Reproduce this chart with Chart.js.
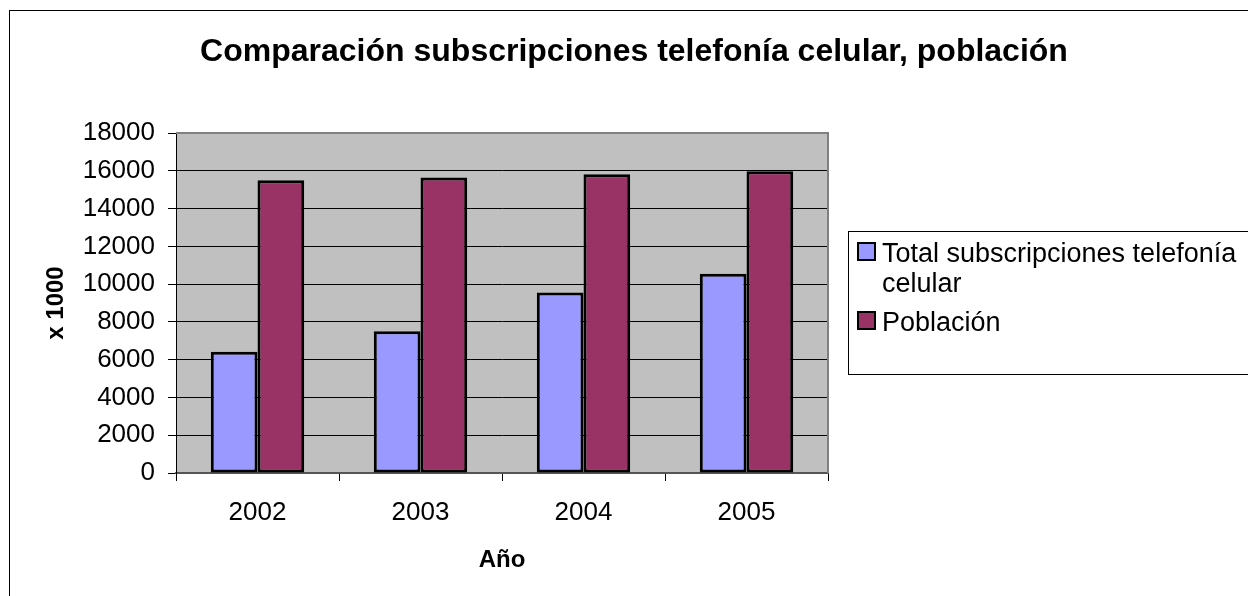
<!DOCTYPE html>
<html>
<head>
<meta charset="utf-8">
<script src="https://cdn.jsdelivr.net/npm/chart.js@4/dist/chart.umd.min.js"></script>
<style>
  html, body { margin: 0; padding: 0; background: #fff; }
  #wrap { width: 1248px; height: 596px; }
</style>
</head>
<body>
<div id="wrap"><canvas id="chart" width="1248" height="596"></canvas></div>
<script>
// datos (x 1000)
const years = ["2002", "2003", "2004", "2005"];
const subscripciones = [6420, 7500, 9550, 10550];
const poblacion = [15500, 15650, 15820, 15970];
const yTicks = [0, 2000, 4000, 6000, 8000, 10000, 12000, 14000, 16000, 18000];

const chartTitle = "Comparación subscripciones telefonía celular, población";
const seriesNames = ["Total subscripciones telefonía celular", "Población"];
const FONT = "'Liberation Sans', Arial, sans-serif";

// fondo gris del área de trazado y marco exterior
const backgroundPlugin = {
  id: "backgroundPlugin",
  beforeDraw(chart) {
    const { ctx, chartArea } = chart;
    ctx.save();
    ctx.fillStyle = "#fff";
    ctx.fillRect(0, 0, chart.width, chart.height);
    ctx.strokeStyle = "#000";
    ctx.lineWidth = 1;
    ctx.strokeRect(9.5, 10.5, 1400, 800);
    ctx.fillStyle = "#C0C0C0";
    ctx.fillRect(chartArea.left, chartArea.top, chartArea.right - chartArea.left, chartArea.bottom - chartArea.top);
    ctx.restore();
  },
  afterDatasetsDraw(chart) {
    const { ctx, chartArea } = chart;
    ctx.save();
    ctx.strokeStyle = "#808080";
    ctx.lineWidth = 2;
    ctx.beginPath();
    ctx.moveTo(chartArea.left, chartArea.top);
    ctx.lineTo(chartArea.right, chartArea.top);
    ctx.lineTo(chartArea.right, chartArea.bottom);
    ctx.stroke();
    ctx.restore();
  },
};

// título y leyenda dibujados a mano
const textPlugin = {
  id: "textPlugin",
  afterDraw(chart) {
    const ctx = chart.ctx;
    ctx.save();
    ctx.fillStyle = "#000";
    ctx.font = "bold 32px " + FONT;
    ctx.textAlign = "center";
    ctx.textBaseline = "alphabetic";
    ctx.fillText(chartTitle, 634, 61);

    // caja de la leyenda
    ctx.strokeStyle = "#000";
    ctx.lineWidth = 1;
    ctx.strokeRect(848.5, 231.5, 500, 143);

    ctx.font = "27px " + FONT;
    ctx.textAlign = "left";
    const maxW = 1244 - 882;
    let baseline = 262;
    chart.data.datasets.forEach((ds) => {
      ctx.fillStyle = ds.backgroundColor;
      ctx.fillRect(858, baseline - 19, 17, 17);
      ctx.strokeStyle = "#000";
      ctx.lineWidth = 2;
      ctx.strokeRect(858, baseline - 19, 17, 17);
      // ajuste de línea simple
      const words = ds.label.split(" ");
      let line = "";
      const lines = [];
      words.forEach((w) => {
        const test = line ? line + " " + w : w;
        if (ctx.measureText(test).width > maxW && line) {
          lines.push(line);
          line = w;
        } else {
          line = test;
        }
      });
      lines.push(line);
      ctx.fillStyle = "#000";
      lines.forEach((l) => {
        ctx.fillText(l, 882, baseline);
        baseline += 30;
      });
      baseline += 9;
    });
    ctx.restore();
  },
};

const ctx = document.getElementById("chart").getContext("2d");
new Chart(ctx, {
  type: "bar",
  data: {
    labels: years,
    datasets: [
      {
        label: seriesNames[0],
        data: subscripciones,
        backgroundColor: "#9999FF",
        borderColor: "#000",
        borderWidth: 3,
        borderSkipped: false,
      },
      {
        label: seriesNames[1],
        data: poblacion,
        backgroundColor: "#993366",
        borderColor: "#000",
        borderWidth: 3,
        borderSkipped: false,
      },
    ],
  },
  options: {
    responsive: false,
    animation: false,
    devicePixelRatio: 1,
    layout: { padding: { top: 133, right: 420, bottom: 0, left: 0 } },
    datasets: { bar: { categoryPercentage: 0.573, barPercentage: 1 } },
    plugins: {
      legend: { display: false },
      title: { display: false },
      tooltip: { enabled: false },
    },
    scales: {
      x: {
        afterFit: (s) => { s.height = 123; },
        grid: { offset: true, drawOnChartArea: false, drawTicks: true, tickLength: 8, color: "#000" },
        border: { color: "#555", width: 2 },
        ticks: { color: "#000", font: { family: FONT, size: 26 }, padding: 16, maxRotation: 0 },
        title: { display: true, text: "Año", color: "#000", font: { family: FONT, size: 24, weight: "bold" }, padding: { top: 0, bottom: 21 } },
      },
      y: {
        min: 0,
        max: 18000,
        afterFit: (s) => { s.width = 176; },
        afterBuildTicks: (s) => { s.ticks = yTicks.map((v) => ({ value: v })); },
        grid: { color: "#000", tickLength: 8, lineWidth: 1 },
        border: { color: "#000", width: 1 },
        ticks: { color: "#000", font: { family: FONT, size: 26 }, padding: 13, callback: (v) => String(v) },
        title: { display: true, text: "x 1000", color: "#000", font: { family: FONT, size: 24, weight: "bold" }, padding: { top: 42, bottom: 0 } },
      },
    },
  },
  plugins: [backgroundPlugin, textPlugin],
});
</script>
</body>
</html>
